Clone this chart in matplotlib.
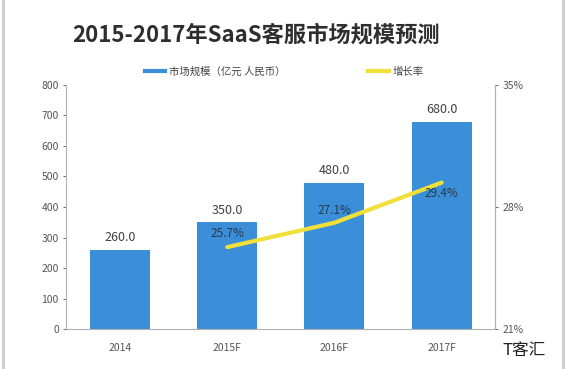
import numpy as np
import matplotlib.pyplot as plt
from matplotlib.patches import Rectangle
from matplotlib.lines import Line2D

plt.rcParams['font.family'] = ['Noto Sans CJK SC', 'DejaVu Sans']

years = ['2014', '2015F', '2016F', '2017F']
market_size = [260.0, 350.0, 480.0, 680.0]
growth_years = ['2015F', '2016F', '2017F']
growth_rate = [25.7, 27.1, 29.4]

BAR_COLOR = '#3b8ed8'
LINE_COLOR = '#f1e03a'
TEXT_COLOR = '#404040'

fig = plt.figure(figsize=(5.68, 3.69), dpi=100)
fig.patch.set_facecolor('white')
# light frame round the picture
fig.patches.append(Rectangle((0.006, -0.01), 0.985, 1.03, transform=fig.transFigure,
                             fill=False, edgecolor='#cccccc', linewidth=2))

ax = fig.add_axes([0.117, 0.108, 0.755, 0.662])
x = np.arange(len(years))
bars = ax.bar(x, market_size, width=0.56, color=BAR_COLOR, zorder=2)
for xi, v in zip(x, market_size):
    ax.annotate(f'{v:.1f}', (xi, v), xytext=(0, 4), textcoords='offset points',
                ha='center', va='bottom', fontsize=9, color=TEXT_COLOR)

ax.set_xlim(-0.5, 3.5)
ax.set_ylim(0, 800)
ax.set_yticks(range(0, 801, 100))
ax.set_xticks(x)
ax.set_xticklabels(years)
ax.tick_params(axis='both', labelsize=7.5, colors='#555555', length=2, width=0.6)
ax.tick_params(axis='x', length=0, pad=10)
for s in ['top']:
    ax.spines[s].set_visible(False)
for s in ['left', 'right', 'bottom']:
    ax.spines[s].set_color('#b0b0b0')
    ax.spines[s].set_linewidth(0.8)

ax2 = ax.twinx()
gx = [years.index(g) for g in growth_years]
ax2.plot(gx, growth_rate, color=LINE_COLOR, linewidth=3, solid_capstyle='round', zorder=3)
offsets = [(0, 10), (0, 9), (0, -8)]
for xi, v, off in zip(gx, growth_rate, offsets):
    ax2.annotate(f'{v:.1f}%', (xi, v), xytext=off, textcoords='offset points',
                 ha='center', va='center', fontsize=8.5, color='#2a3a4a')
ax2.set_ylim(21, 35)
ax2.set_yticks([21, 28, 35])
ax2.set_yticklabels(['21%', '28%', '35%'])
ax2.tick_params(axis='y', labelsize=7.5, colors='#555555', length=2, width=0.6)
for s in ['top', 'left', 'bottom']:
    ax2.spines[s].set_visible(False)
ax2.spines['right'].set_color('#b0b0b0')
ax2.spines['right'].set_linewidth(0.8)

fig.text(0.45, 0.905, '2015-2017年SaaS客服市场规模预测', ha='center', va='center',
         fontsize=16, fontweight='bold', color='#2e2e2e')

handles = [Line2D([0], [0], color=BAR_COLOR, linewidth=3),
           Line2D([0], [0], color=LINE_COLOR, linewidth=3)]
fig.legend(handles, ['市场规模（亿元 人民币）', '增长率'], loc='center',
           bbox_to_anchor=(0.5, 0.805), ncol=2, frameon=False, fontsize=7.5,
           handlelength=2, handletextpad=0.3, columnspacing=8,
           labelcolor='#444444')

fig.text(0.885, 0.05, 'T客汇', fontsize=12, color='#222222', ha='left', va='center')

fig.savefig('out.png', dpi=100)
